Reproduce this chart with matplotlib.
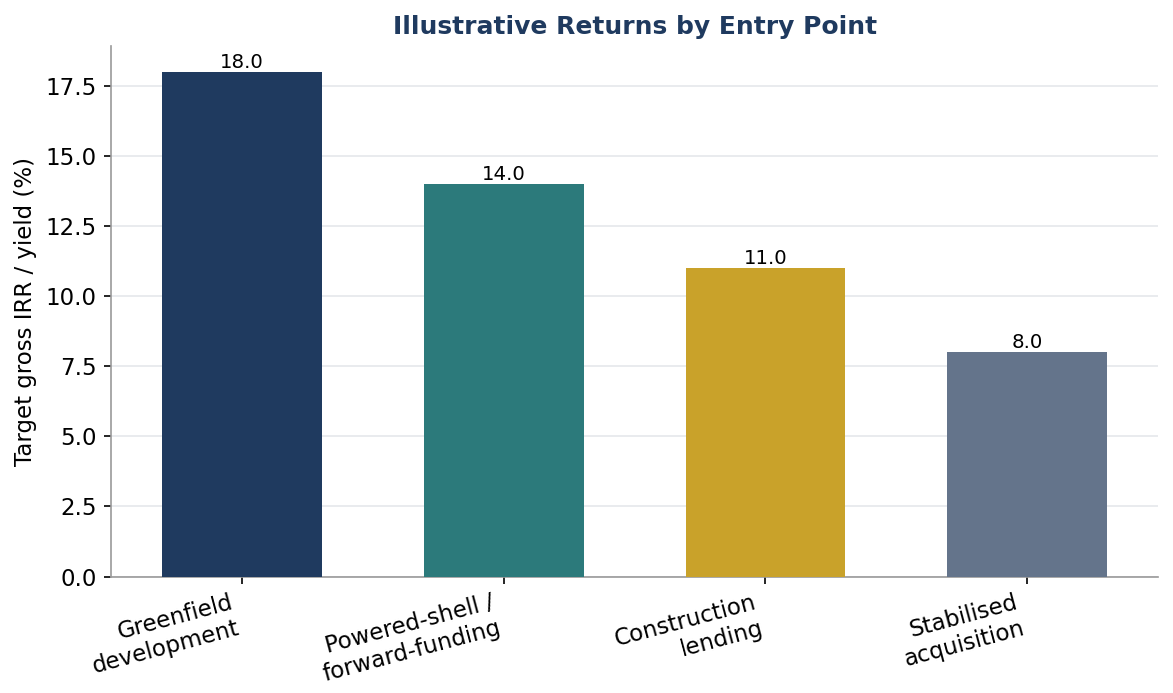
import matplotlib
matplotlib.use("Agg")
import matplotlib.pyplot as plt

categories = ["Greenfield\ndevelopment", "Powered-shell /\nforward-funding", "Construction\nlending", "Stabilised\nacquisition"]
values = [18.0, 14.0, 11.0, 8.0]
colors = ["#1f3a5f", "#2c7a7b", "#c9a22a", "#64748b"]

fig, ax = plt.subplots(figsize=(7.82, 4.62), dpi=150)
x = range(len(categories))
bars = ax.bar(x, values, width=0.61, color=colors, zorder=3)
for b, v in zip(bars, values):
    ax.text(b.get_x() + b.get_width() / 2, v, f"{v:.1f}", ha="center", va="bottom", fontsize=9.5, zorder=4)

ax.set_xticks(list(x))
ax.set_xticklabels(categories, rotation=15, ha="right")
ax.set_ylabel("Target gross IRR / yield (%)", fontsize=11)
ax.set_title("Illustrative Returns by Entry Point", fontsize=12, fontweight="bold", color="#1f3a5f")
ax.set_ylim(0, 18.9)
ax.set_xlim(-0.5, 3.5)
ax.yaxis.grid(True, color="#e5e7eb", linewidth=0.8, zorder=0)
ax.set_axisbelow(True)
for s in ["top", "right"]:
    ax.spines[s].set_visible(False)
for s in ["left", "bottom"]:
    ax.spines[s].set_color("#999999")
ax.tick_params(axis="both", labelsize=11)
fig.subplots_adjust(left=0.095, right=0.987, top=0.933, bottom=0.168)
fig.savefig("out.png", dpi=150)
